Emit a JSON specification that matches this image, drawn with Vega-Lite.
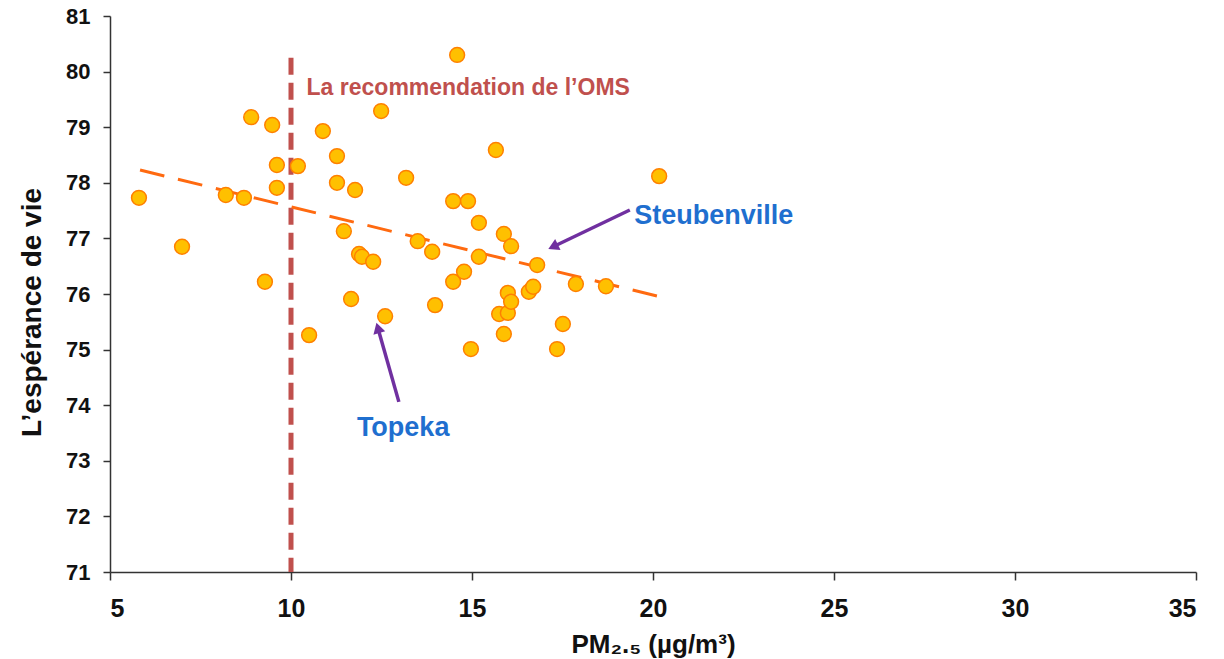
{
  "$schema": "https://vega.github.io/schema/vega-lite/v6.json",
  "width": 1086,
  "height": 556,
  "autosize": {"type": "none"},
  "padding": {"left": 110, "top": 16, "right": 28, "bottom": 87},
  "background": "white",
  "config": {
    "view": {"stroke": null},
    "font": "Liberation Sans",
    "axis": {"grid": false, "domainColor": "#333333", "tickColor": "#333333", "domainWidth": 1.5, "tickWidth": 1.5, "tickSize": 8, "labelFont": "Liberation Sans", "labelFontWeight": "bold", "labelColor": "#111111", "titleFont": "Liberation Sans", "titleFontWeight": "bold", "titleColor": "#111111"}
  },
  "datasets": {
    "cities": [
      {"pm": 5.8, "life": 77.73}, {"pm": 6.99, "life": 76.85}, {"pm": 8.2, "life": 77.78}, {"pm": 8.7, "life": 77.73},
      {"pm": 8.9, "life": 79.18}, {"pm": 9.28, "life": 76.22}, {"pm": 9.48, "life": 79.04}, {"pm": 9.61, "life": 78.32},
      {"pm": 9.61, "life": 77.91}, {"pm": 10.19, "life": 78.3}, {"pm": 10.5, "life": 75.26}, {"pm": 10.88, "life": 78.93},
      {"pm": 11.27, "life": 78.48}, {"pm": 11.27, "life": 78.0}, {"pm": 11.46, "life": 77.13}, {"pm": 11.77, "life": 77.87},
      {"pm": 11.66, "life": 75.91}, {"pm": 11.88, "life": 76.72}, {"pm": 11.96, "life": 76.67}, {"pm": 12.27, "life": 76.58},
      {"pm": 12.49, "life": 79.29}, {"pm": 12.6, "life": 75.6}, {"pm": 13.18, "life": 78.09}, {"pm": 13.5, "life": 76.95},
      {"pm": 13.9, "life": 76.76}, {"pm": 13.98, "life": 75.8}, {"pm": 14.48, "life": 76.22}, {"pm": 14.48, "life": 77.67},
      {"pm": 14.59, "life": 80.3}, {"pm": 14.78, "life": 76.4}, {"pm": 14.89, "life": 77.67}, {"pm": 14.97, "life": 75.01},
      {"pm": 15.19, "life": 77.28}, {"pm": 15.19, "life": 76.67}, {"pm": 15.66, "life": 78.59}, {"pm": 15.75, "life": 75.64},
      {"pm": 15.88, "life": 77.08}, {"pm": 15.88, "life": 75.28}, {"pm": 15.99, "life": 75.66}, {"pm": 15.99, "life": 76.02},
      {"pm": 16.08, "life": 75.86}, {"pm": 16.08, "life": 76.86}, {"pm": 16.57, "life": 76.04}, {"pm": 16.69, "life": 76.13},
      {"pm": 16.8, "life": 76.52}, {"pm": 17.35, "life": 75.01}, {"pm": 17.51, "life": 75.46}, {"pm": 17.87, "life": 76.18},
      {"pm": 18.7, "life": 76.14}, {"pm": 20.17, "life": 78.12}
    ],
    "trend": [{"pm": 5.83, "life": 78.23}, {"pm": 20.2, "life": 75.95}],
    "who": [{"pm": 10, "life": 80.25}, {"pm": 10, "life": 71}],
    "labels": [
      {"name": "oms", "text": "La recommendation de l’OMS", "pm": 10.43, "life": 79.7},
      {"name": "steub", "text": "Steubenville", "pm": 19.48, "life": 77.4},
      {"name": "topeka", "text": "Topeka", "pm": 11.82, "life": 73.59}
    ],
    "arrows": [
      {"name": "steub", "pm": 19.36, "life": 77.51, "pm2": 17.24, "life2": 76.85},
      {"name": "topeka", "pm": 12.98, "life": 74.06, "pm2": 12.4, "life2": 75.39}
    ]
  },
  "layer": [
    {
      "data": {"name": "who"},
      "mark": {"type": "line", "color": "#C0504D", "strokeWidth": 5, "strokeDash": [17, 8]},
      "encoding": {
        "x": {"field": "pm", "type": "quantitative", "scale": {"domain": [5, 35], "nice": false, "zero": false},
          "axis": {"values": [5, 10, 15, 20, 25, 30, 35], "title": "PM₂.₅ (µg/m³)", "labelFontSize": 25, "labelPadding": 16, "titleFontSize": 26, "titlePadding": 10}},
        "y": {"field": "life", "type": "quantitative", "scale": {"domain": [71, 81], "nice": false, "zero": false},
          "axis": {"values": [71, 72, 73, 74, 75, 76, 77, 78, 79, 80, 81], "title": "L’espérance de vie", "labelFontSize": 22, "tickSize": 7, "labelPadding": 13, "titleFontSize": 28, "titleX": -64, "titleY": 296}}
      }
    },
    {
      "data": {"name": "trend"},
      "mark": {"type": "line", "color": "#FF6A10", "strokeWidth": 3, "strokeDash": [25, 14]},
      "encoding": {
        "x": {"field": "pm", "type": "quantitative"},
        "y": {"field": "life", "type": "quantitative"}
      }
    },
    {
      "data": {"name": "cities"},
      "mark": {"type": "point", "shape": "circle", "filled": true, "fill": "#FFC000", "stroke": "#FF8000", "strokeWidth": 1.5, "size": 220, "opacity": 1},
      "encoding": {
        "x": {"field": "pm", "type": "quantitative"},
        "y": {"field": "life", "type": "quantitative"}
      }
    },
    {
      "data": {"name": "arrows"},
      "mark": {"type": "rule", "color": "#7030A0", "strokeWidth": 3.5},
      "encoding": {
        "x": {"field": "pm", "type": "quantitative"},
        "y": {"field": "life", "type": "quantitative"},
        "x2": {"field": "pm2"},
        "y2": {"field": "life2"}
      }
    },
    {
      "data": {"name": "arrows"},
      "transform": [{"filter": "datum.name === 'steub'"}],
      "mark": {"type": "point", "shape": "triangle-up", "filled": true, "color": "#7030A0", "size": 150, "angle": 244, "opacity": 1},
      "encoding": {
        "x": {"field": "pm2", "type": "quantitative"},
        "y": {"field": "life2", "type": "quantitative"}
      }
    },
    {
      "data": {"name": "arrows"},
      "transform": [{"filter": "datum.name === 'topeka'"}],
      "mark": {"type": "point", "shape": "triangle-up", "filled": true, "color": "#7030A0", "size": 150, "angle": 344, "opacity": 1},
      "encoding": {
        "x": {"field": "pm2", "type": "quantitative"},
        "y": {"field": "life2", "type": "quantitative"}
      }
    },
    {
      "data": {"name": "labels"},
      "transform": [{"filter": "datum.name === 'oms'"}],
      "mark": {"type": "text", "align": "left", "baseline": "middle", "font": "Liberation Sans", "fontWeight": "bold", "fontSize": 23, "color": "#C0504D"},
      "encoding": {
        "x": {"field": "pm", "type": "quantitative"},
        "y": {"field": "life", "type": "quantitative"},
        "text": {"field": "text"}
      }
    },
    {
      "data": {"name": "labels"},
      "transform": [{"filter": "datum.name !== 'oms'"}],
      "mark": {"type": "text", "align": "left", "baseline": "middle", "font": "Liberation Sans", "fontWeight": "bold", "fontSize": 27, "color": "#1F6FCF"},
      "encoding": {
        "x": {"field": "pm", "type": "quantitative"},
        "y": {"field": "life", "type": "quantitative"},
        "text": {"field": "text"}
      }
    }
  ]
}
